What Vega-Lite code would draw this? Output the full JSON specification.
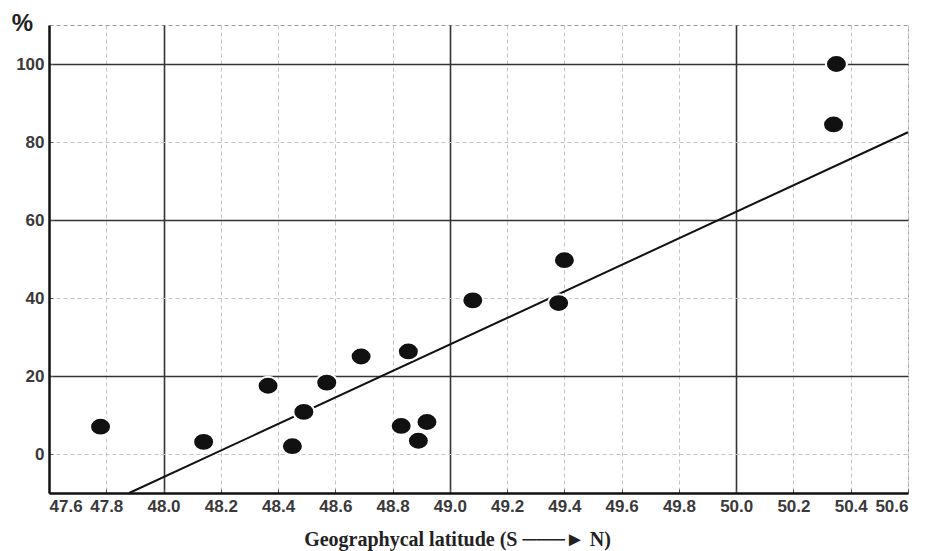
{
  "$schema": "https://vega.github.io/schema/vega-lite/v6.json",
  "width": 859,
  "height": 468,
  "autosize": {"type": "none"},
  "padding": {"left": 49, "top": 25, "right": 17, "bottom": 58},
  "background": "white",
  "config": {
    "view": {"stroke": "#999", "strokeDash": [4, 3], "strokeWidth": 1}
  },
  "layer": [
    {
      "data": {"values": [{"lat": 47.88, "pct": -10}, {"lat": 50.6, "pct": 82.5}]},
      "mark": {"type": "line", "color": "#111", "strokeWidth": 2},
      "encoding": {
        "x": {
          "field": "lat", "type": "quantitative",
          "scale": {"domain": [47.6, 50.6], "nice": false, "zero": false},
          "axis": {
            "values": [47.6, 47.8, 48.0, 48.2, 48.4, 48.6, 48.8, 49.0, 49.2, 49.4, 49.6, 49.8, 50.0, 50.2, 50.4, 50.6],
            "format": ".1f",
            "labelFont": "Liberation Sans", "labelFontWeight": "bold", "labelColor": "#3a3a3a", "labelFontSize": 17,
            "grid": true,
            "gridColor": {"condition": {"test": "abs(datum.value - round(datum.value)) < 0.001", "value": "#333"}, "value": "#c4c4c4"},
            "gridDash": {"condition": {"test": "abs(datum.value - round(datum.value)) < 0.001", "value": []}, "value": [4, 3]},
            "gridWidth": {"condition": {"test": "abs(datum.value - round(datum.value)) < 0.001", "value": 1.6}, "value": 1},
            "domainColor": "#111", "domainWidth": 2.5,
            "ticks": true, "tickSize": -4, "tickColor": "#555",
            "labelPadding": 9,
            "title": "Geographycal latitude (S ───► N)",
            "titleFont": "Liberation Serif", "titleFontSize": 20, "titleFontWeight": "bold", "titleColor": "#222",
            "titleX": 408, "titleY": 52, "titleBaseline": "alphabetic", "titleAlign": "center"
          }
        },
        "y": {
          "field": "pct", "type": "quantitative",
          "scale": {"domain": [-10, 110], "nice": false, "zero": false},
          "axis": {
            "values": [0, 20, 40, 60, 80, 100],
            "labelFont": "Liberation Sans", "labelFontWeight": "bold", "labelColor": "#3a3a3a", "labelFontSize": 17,
            "grid": true,
            "gridColor": {"condition": {"test": "datum.value % 40 == 20", "value": "#333"}, "value": "#c4c4c4"},
            "gridDash": {"condition": {"test": "datum.value % 40 == 20", "value": []}, "value": [4, 3]},
            "gridWidth": {"condition": {"test": "datum.value % 40 == 20", "value": 1.6}, "value": 1},
            "domainColor": "#111", "domainWidth": 2.5,
            "ticks": true, "tickSize": -4, "tickColor": "#555",
            "labelPadding": 9,
            "title": "%",
            "titleFont": "Liberation Sans", "titleFontSize": 24, "titleFontWeight": "bold", "titleColor": "#222",
            "titleAngle": 0, "titleX": -27, "titleY": -2, "titleAlign": "center", "titleBaseline": "middle"
          }
        }
      }
    },
    {
      "data": {"values": [
        {"lat": 47.78, "pct": 7},
        {"lat": 48.14, "pct": 3.1},
        {"lat": 48.365, "pct": 17.5},
        {"lat": 48.45, "pct": 2},
        {"lat": 48.49, "pct": 10.8},
        {"lat": 48.57, "pct": 18.3},
        {"lat": 48.69, "pct": 25},
        {"lat": 48.83, "pct": 7.2},
        {"lat": 48.855, "pct": 26.3},
        {"lat": 48.89, "pct": 3.4},
        {"lat": 48.92, "pct": 8.2},
        {"lat": 49.08, "pct": 39.4},
        {"lat": 49.38, "pct": 38.7},
        {"lat": 49.4, "pct": 49.7},
        {"lat": 50.34, "pct": 84.5},
        {"lat": 50.35, "pct": 100}
      ]},
      "mark": {"type": "point", "shape": "M -1 0 A 1 0.85 0 1 0 1 0 A 1 0.85 0 1 0 -1 0 Z", "filled": true, "color": "#111", "opacity": 1, "size": 440, "stroke": "white", "strokeWidth": 2},
      "encoding": {
        "x": {"field": "lat", "type": "quantitative"},
        "y": {"field": "pct", "type": "quantitative"}
      }
    }
  ]
}
